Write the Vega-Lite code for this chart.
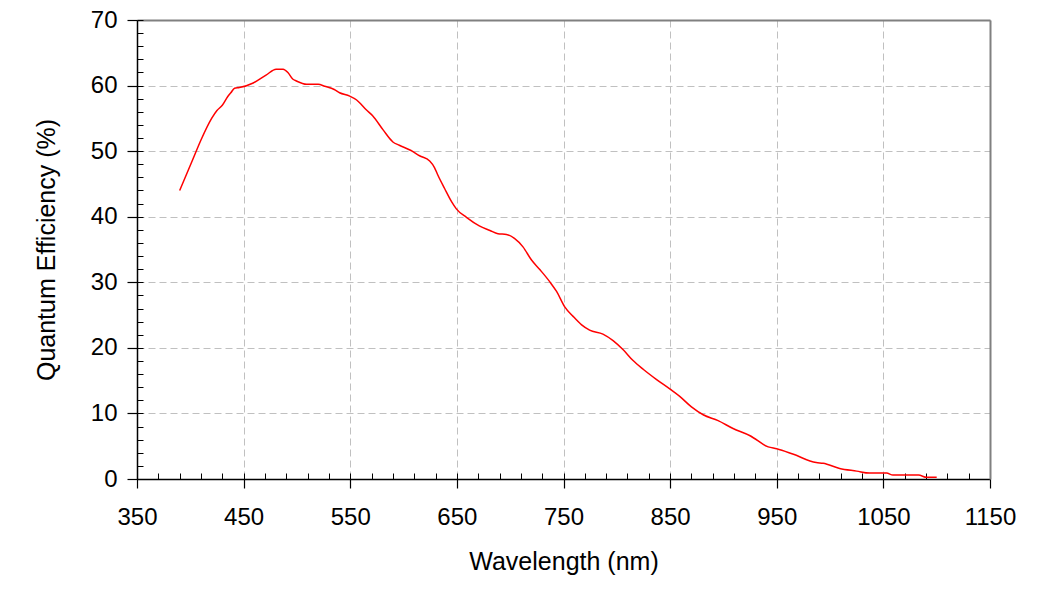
{
  "$schema": "https://vega.github.io/schema/vega-lite/v6.json",
  "width": 853,
  "height": 459,
  "autosize": {"type": "none"},
  "padding": {"left": 137, "top": 20, "right": 70, "bottom": 122},
  "background": "white",
  "config": {
    "view": {"stroke": null},
    "font": "Liberation Sans",
    "axis": {
      "labelFont": "Liberation Sans",
      "titleFont": "Liberation Sans",
      "labelColor": "black",
      "titleColor": "black",
      "titleFontWeight": "normal",
      "domainColor": "black",
      "tickColor": "black",
      "labelFlush": false,
      "labelOverlap": false
    }
  },
  "data": {
    "values": [
      {"nm": 390, "qe": 44.0}, {"nm": 402, "qe": 48.6}, {"nm": 410, "qe": 51.7},
      {"nm": 420, "qe": 55.0}, {"nm": 425, "qe": 56.2}, {"nm": 430, "qe": 57.0},
      {"nm": 435, "qe": 58.3}, {"nm": 438, "qe": 58.9}, {"nm": 441.5, "qe": 59.6},
      {"nm": 446, "qe": 59.7}, {"nm": 459, "qe": 60.4}, {"nm": 471, "qe": 61.6},
      {"nm": 480.5, "qe": 62.5}, {"nm": 487, "qe": 62.5}, {"nm": 491.5, "qe": 62.0},
      {"nm": 496, "qe": 61.0}, {"nm": 499.5, "qe": 60.7}, {"nm": 509, "qe": 60.2},
      {"nm": 520, "qe": 60.2}, {"nm": 526, "qe": 59.9}, {"nm": 535, "qe": 59.4},
      {"nm": 540, "qe": 58.9}, {"nm": 549.5, "qe": 58.4}, {"nm": 556, "qe": 57.8},
      {"nm": 565, "qe": 56.3}, {"nm": 571, "qe": 55.4}, {"nm": 581, "qe": 53.2},
      {"nm": 590, "qe": 51.4}, {"nm": 596, "qe": 50.9}, {"nm": 607, "qe": 50.1},
      {"nm": 615, "qe": 49.3}, {"nm": 624.5, "qe": 48.5}, {"nm": 629, "qe": 47.5},
      {"nm": 632, "qe": 46.4}, {"nm": 638.5, "qe": 44.3}, {"nm": 645, "qe": 42.3},
      {"nm": 649.5, "qe": 41.2}, {"nm": 659, "qe": 39.9}, {"nm": 671, "qe": 38.6},
      {"nm": 681, "qe": 37.9}, {"nm": 688.5, "qe": 37.4}, {"nm": 696.5, "qe": 37.3},
      {"nm": 704, "qe": 36.7}, {"nm": 712, "qe": 35.4}, {"nm": 720, "qe": 33.4},
      {"nm": 728, "qe": 31.9}, {"nm": 737, "qe": 30.1}, {"nm": 743.5, "qe": 28.6},
      {"nm": 751, "qe": 26.3}, {"nm": 759, "qe": 24.8}, {"nm": 767, "qe": 23.5},
      {"nm": 774.5, "qe": 22.7}, {"nm": 787, "qe": 22.1}, {"nm": 796.5, "qe": 21.1},
      {"nm": 806, "qe": 19.7}, {"nm": 815, "qe": 18.1}, {"nm": 825, "qe": 16.7},
      {"nm": 837, "qe": 15.2}, {"nm": 850, "qe": 13.7}, {"nm": 859, "qe": 12.6},
      {"nm": 870, "qe": 11.0}, {"nm": 881, "qe": 9.8}, {"nm": 895, "qe": 8.9},
      {"nm": 909, "qe": 7.7}, {"nm": 925, "qe": 6.6}, {"nm": 942, "qe": 4.9},
      {"nm": 950, "qe": 4.6}, {"nm": 965, "qe": 3.8}, {"nm": 987, "qe": 2.5},
      {"nm": 993.5, "qe": 2.4}, {"nm": 1009, "qe": 1.6}, {"nm": 1025, "qe": 1.2},
      {"nm": 1037, "qe": 0.9}, {"nm": 1053, "qe": 0.9}, {"nm": 1059, "qe": 0.6},
      {"nm": 1083, "qe": 0.6}, {"nm": 1090.5, "qe": 0.25}, {"nm": 1100, "qe": 0.25}
    ]
  },
  "resolve": {"axis": {"x": "independent", "y": "independent"}},
  "layer": [
    {
      "mark": {"type": "line", "opacity": 0},
      "encoding": {
        "x": {
          "field": "nm", "type": "quantitative",
          "scale": {"domain": [350, 1150], "nice": false, "zero": false},
          "axis": {
            "orient": "top", "title": null, "labels": false, "ticks": false,
            "grid": false, "domainColor": "#808080", "domainWidth": 2
          }
        },
        "y": {
          "field": "qe", "type": "quantitative",
          "scale": {"domain": [0, 70], "nice": false},
          "axis": {
            "orient": "right", "title": null, "labels": false, "ticks": false,
            "grid": false, "domainColor": "#808080", "domainWidth": 2
          }
        }
      }
    },
    {
      "mark": {"type": "line", "opacity": 0},
      "encoding": {
        "x": {
          "field": "nm", "type": "quantitative",
          "axis": {
            "orient": "bottom", "title": null, "labels": false, "grid": false,
            "domain": false, "tickSize": -6, "tickWidth": 1,
            "values": [350, 370, 390, 410, 430, 450, 470, 490, 510, 530, 550, 570, 590, 610, 630, 650, 670, 690, 710, 730, 750, 770, 790, 810, 830, 850, 870, 890, 910, 930, 950, 970, 990, 1010, 1030, 1050, 1070, 1090, 1110, 1130, 1150]
          }
        },
        "y": {
          "field": "qe", "type": "quantitative",
          "axis": {
            "orient": "left", "title": null, "labels": false, "grid": false,
            "domain": false, "tickSize": -6, "tickWidth": 1,
            "values": [0, 2, 4, 6, 8, 10, 12, 14, 16, 18, 20, 22, 24, 26, 28, 30, 32, 34, 36, 38, 40, 42, 44, 46, 48, 50, 52, 54, 56, 58, 60, 62, 64, 66, 68, 70]
          }
        }
      }
    },
    {
      "mark": {"type": "line", "color": "#ff0000", "strokeWidth": 1.5, "interpolate": "monotone"},
      "encoding": {
        "x": {
          "field": "nm", "type": "quantitative",
          "axis": {
            "orient": "bottom", "title": "Wavelength (nm)", "format": "d",
            "values": [350, 450, 550, 650, 750, 850, 950, 1050, 1150],
            "labelFontSize": 24, "labelPadding": 17, "tickSize": 9, "tickWidth": 1.2,
            "domainWidth": 1.5,
            "grid": true, "gridColor": "#c0c0c0", "gridDash": [7, 4], "gridWidth": 1,
            "titleFontSize": 25, "titleBaseline": "alphabetic", "titleX": 426.5, "titleY": 90
          }
        },
        "y": {
          "field": "qe", "type": "quantitative",
          "axis": {
            "orient": "left", "title": "Quantum Efficiency (%)", "format": "d",
            "values": [0, 10, 20, 30, 40, 50, 60, 70],
            "labelFontSize": 24, "labelPadding": 10, "tickSize": 10, "tickWidth": 1.2,
            "domainWidth": 1.5,
            "grid": true, "gridColor": "#c0c0c0", "gridDash": [7, 4], "gridWidth": 1,
            "titleFontSize": 25, "titleBaseline": "alphabetic", "titleAngle": 270,
            "titleX": -83, "titleY": 229.5
          }
        }
      }
    }
  ]
}
